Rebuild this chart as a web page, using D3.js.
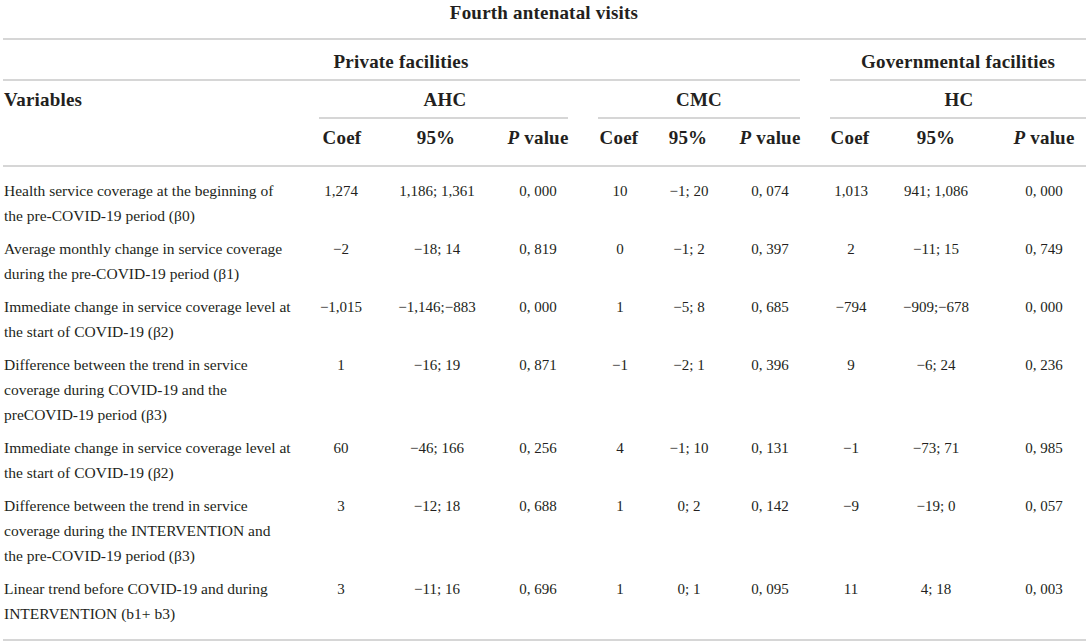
<!DOCTYPE html>
<html>
<head>
<meta charset="utf-8">
<script src="https://cdn.jsdelivr.net/npm/d3@7"></script>
<style>
  body { margin: 0; background: #fff; }
  svg text { font-family: "Liberation Serif", "Times New Roman", serif; fill: #231f20; }
  .hd { font-weight: bold; font-size: 19px; letter-spacing: 0.2px; }
  .cell { font-size: 15px; }
  .lbl { font-size: 15.5px; }
</style>
</head>
<body>
<svg id="table"></svg>
<script>
// table content
const title = "Fourth antenatal visits";
const groups = ["Private facilities", "Governmental facilities"];
const facilities = ["AHC", "CMC", "HC"];
const statCols = ["Coef", "95%", "P value"];

const variables = [
    ["Health service coverage at the beginning of", "the pre-COVID-19 period (β0)"],
    ["Average monthly change in service coverage", "during the pre-COVID-19 period (β1)"],
    ["Immediate change in service coverage level at", "the start of COVID-19 (β2)"],
    ["Difference between the trend in service", "coverage during COVID-19 and the", "preCOVID-19 period (β3)"],
    ["Immediate change in service coverage level at", "the start of COVID-19 (β2)"],
    ["Difference between the trend in service", "coverage during the INTERVENTION and", "the pre-COVID-19 period (β3)"],
    ["Linear trend before COVID-19 and during", "INTERVENTION (b1+ b3)"]
];

const ahcCoef = ["1,274", "−2", "−1,015", "1", "60", "3", "3"];
const ahcCI   = ["1,186; 1,361", "−18; 14", "−1,146;−883", "−16; 19", "−46; 166", "−12; 18", "−11; 16"];
const ahcP    = ["0, 000", "0, 819", "0, 000", "0, 871", "0, 256", "0, 688", "0, 696"];

const cmcCoef = ["10", "0", "1", "−1", "4", "1", "1"];
const cmcCI   = ["−1; 20", "−1; 2", "−5; 8", "−2; 1", "−1; 10", "0; 2", "0; 1"];
const cmcP    = ["0, 074", "0, 397", "0, 685", "0, 396", "0, 131", "0, 142", "0, 095"];

const hcCoef = ["1,013", "2", "−794", "9", "−1", "−9", "11"];
const hcCI   = ["941; 1,086", "−11; 15", "−909;−678", "−6; 24", "−73; 71", "−19; 0", "4; 18"];
const hcP    = ["0, 000", "0, 749", "0, 000", "0, 236", "0, 985", "0, 057", "0, 003"];

const W = 1089, H = 643;
const svg = d3.select("#table").attr("width", W).attr("height", H);

// column centres
const colKeys = ["ahcCoef", "ahcCI", "ahcP", "cmcCoef", "cmcCI", "cmcP", "hcCoef", "hcCI", "hcP"];
const x = d3.scaleOrdinal()
    .domain(colKeys)
    .range([341, 437, 538, 620, 689, 770, 851, 936, 1044]);

const columns = [ahcCoef, ahcCI, ahcP, cmcCoef, cmcCI, cmcP, hcCoef, hcCI, hcP];

const lineColor = "#c9c9c9";
function rule(x1, x2, y) {
    svg.append("line")
        .attr("x1", x1).attr("x2", x2)
        .attr("y1", y).attr("y2", y)
        .attr("stroke", lineColor)
        .attr("stroke-width", 1.6);
}

// header
svg.append("text").attr("class", "hd")
    .attr("x", 544).attr("y", 19)
    .attr("text-anchor", "middle").text(title);
rule(3, 1086, 39);

svg.append("text").attr("class", "hd")
    .attr("x", 401).attr("y", 68)
    .attr("text-anchor", "middle").text(groups[0]);
svg.append("text").attr("class", "hd")
    .attr("x", 958).attr("y", 68)
    .attr("text-anchor", "middle").text(groups[1]);
rule(3, 800, 80);
rule(830, 1086, 80);

svg.append("text").attr("class", "hd")
    .attr("x", 4).attr("y", 106).text("Variables");

const facX = [445, 699, 959];
facilities.forEach((f, i) => {
    svg.append("text").attr("class", "hd")
        .attr("x", facX[i]).attr("y", 106)
        .attr("text-anchor", "middle").text(f);
});
rule(319, 568, 118);
rule(598, 800, 118);
rule(830, 1086, 118);

const headX = [342, 436, 538, 619, 688, 770, 850, 936, 1044];
headX.forEach((hx, i) => {
    const s = statCols[i % 3];
    const t = svg.append("text").attr("class", "hd")
        .attr("x", hx).attr("y", 144)
        .attr("text-anchor", "middle");
    if (s === "P value") {
        t.append("tspan").style("font-style", "italic").text("P");
        t.append("tspan").text(" value");
    } else {
        t.text(s);
    }
});
rule(3, 1086, 166);

// body rows
const lineH = 25, rowGap = 33;
let y0 = 196;
const rowY = variables.map(v => {
    const y = y0;
    y0 += (v.length - 1) * lineH + rowGap;
    return y;
});

const rows = svg.append("g").selectAll("g")
    .data(variables)
    .join("g")
    .attr("transform", (d, i) => `translate(0,${rowY[i]})`);

rows.append("text").attr("class", "lbl")
    .attr("x", 4)
    .selectAll("tspan")
    .data(d => d)
    .join("tspan")
    .attr("x", 4)
    .attr("dy", (d, i) => i === 0 ? 0 : lineH)
    .text(d => d);

colKeys.forEach((k, ci) => {
    rows.append("text").attr("class", "cell")
        .attr("x", x(k))
        .attr("text-anchor", "middle")
        .text((d, i) => columns[ci][i]);
});

rule(3, 1086, 640);
</script>
</body>
</html>
